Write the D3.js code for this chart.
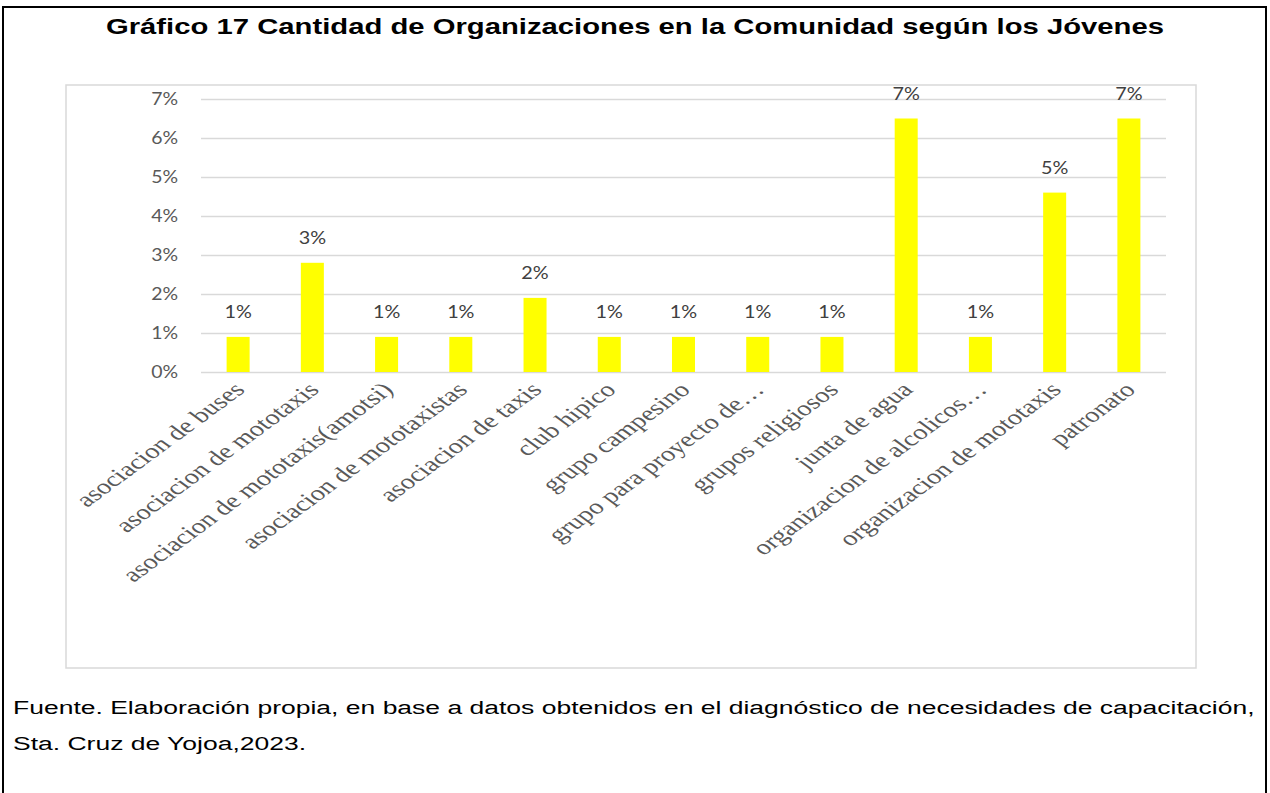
<!DOCTYPE html>
<html>
<head>
<meta charset="utf-8">
<script src="https://cdn.jsdelivr.net/npm/d3@7"></script>
<style>
  body { margin: 0; background: #fff; }
</style>
</head>
<body>
<svg width="1270" height="793"></svg>
<script>
var categories = [
    "asociacion de buses",
    "asociacion de mototaxis",
    "asociacion de mototaxis(amotsi)",
    "asociacion de mototaxistas",
    "asociacion de taxis",
    "club hipico",
    "grupo campesino",
    "grupo para proyecto de…",
    "grupos religiosos",
    "junta de agua",
    "organizacion de alcolicos…",
    "organizacion de mototaxis",
    "patronato"
];
var values = [0.9, 2.8, 0.9, 0.9, 1.9, 0.9, 0.9, 0.9, 0.9, 6.5, 0.9, 4.6, 6.5];
var yTicks = [0, 1, 2, 3, 4, 5, 6, 7];
var title = "Gráfico 17 Cantidad de Organizaciones en la Comunidad según los Jóvenes";
var footer = [
    "Fuente. Elaboración propia, en base a datos obtenidos en el diagnóstico de necesidades de capacitación,",
    "Sta. Cruz de Yojoa,2023."
];

// the source picture is stretched sideways, text follows that
var stretch = 1.36;

function main() {
    var svg = d3.select("svg");

    // outer frame (no bottom edge visible)
    svg.append("path")
        .attr("d", "M3,800 V7 H1266 V800")
        .attr("fill", "none")
        .attr("stroke", "#000")
        .attr("stroke-width", 2);

    svg.append("text")
        .attr("transform", "translate(635,34) scale(1.33,1)")
        .attr("text-anchor", "middle")
        .attr("font-family", "Liberation Sans, Arial, sans-serif")
        .attr("font-weight", "bold")
        .attr("font-size", "22px")
        .attr("fill", "#000")
        .text(title);

    // chart area box
    svg.append("rect")
        .attr("x", 66)
        .attr("y", 85)
        .attr("width", 1130)
        .attr("height", 583)
        .attr("fill", "#fff")
        .attr("stroke", "#d9d9d9")
        .attr("stroke-width", 1.5);

    var x = d3.scaleBand().domain(categories).range([201, 1166])
            .paddingInner(0.69).paddingOuter(0.345),
        y = d3.scaleLinear().domain([0, 7]).range([372, 99]);

    var g = svg.append("g");

    // gridlines + y labels
    g.append("g")
        .attr("transform", "translate(201,0)")
        .call(d3.axisLeft(y).tickValues(yTicks).tickSize(-965)
            .tickFormat(function(d) { return d + "%"; }))
        .call(function(a) {
            a.select(".domain").remove();
            a.selectAll("line").attr("stroke", "#d9d9d9").attr("stroke-width", 1.5);
            a.selectAll("text")
                .attr("x", 0)
                .attr("transform", "translate(-23,0) scale(1.08,1)")
                .attr("fill", "#595959")
                .attr("font-family", "Lato, Carlito, Calibri, sans-serif")
                .attr("font-size", "18px");
        });

    g.selectAll(".bar")
        .data(values)
        .enter()
        .append("rect")
        .attr("class", "bar")
        .attr("x", function(d, i) { return x(categories[i]); })
        .attr("y", function(d) { return y(d); })
        .attr("width", x.bandwidth())
        .attr("height", function(d) { return y(0) - y(d); })
        .attr("fill", "#ffff00");

    g.selectAll(".lbl")
        .data(values)
        .enter()
        .append("text")
        .attr("class", "lbl")
        .attr("transform", function(d, i) {
            return "translate(" + (x(categories[i]) + x.bandwidth() / 2) + "," + (y(d) - 19) + ") scale(1.1,1)";
        })
        .attr("text-anchor", "middle")
        .attr("fill", "#404040")
        .attr("font-family", "Lato, Carlito, Calibri, sans-serif")
        .attr("font-size", "18px")
        .text(function(d) { return Math.round(d) + "%"; });

    // x axis labels, rotated
    g.append("g")
        .attr("transform", "translate(0,372)")
        .call(d3.axisBottom(x).tickSize(0).tickPadding(0))
        .call(function(a) {
            a.select(".domain").remove();
            a.selectAll("text")
                .attr("text-anchor", "end")
                .attr("y", 0)
                .attr("dy", 0)
                .attr("transform", "translate(8,19) scale(" + stretch + ",1) rotate(-45)")
                .attr("fill", "#595959")
                .attr("font-family", "Liberation Serif, Times New Roman, serif")
                .attr("font-size", "21px");
        });

    svg.selectAll(".foot")
        .data(footer)
        .enter()
        .append("text")
        .attr("class", "foot")
        .attr("transform", function(d, i) { return "translate(13," + (714 + i * 36) + ") scale(1.395,1)"; })
        .attr("font-family", "Liberation Sans, Arial, sans-serif")
        .attr("font-size", "19px")
        .attr("fill", "#000")
        .text(function(d) { return d; });
}
main();
</script>
</body>
</html>
